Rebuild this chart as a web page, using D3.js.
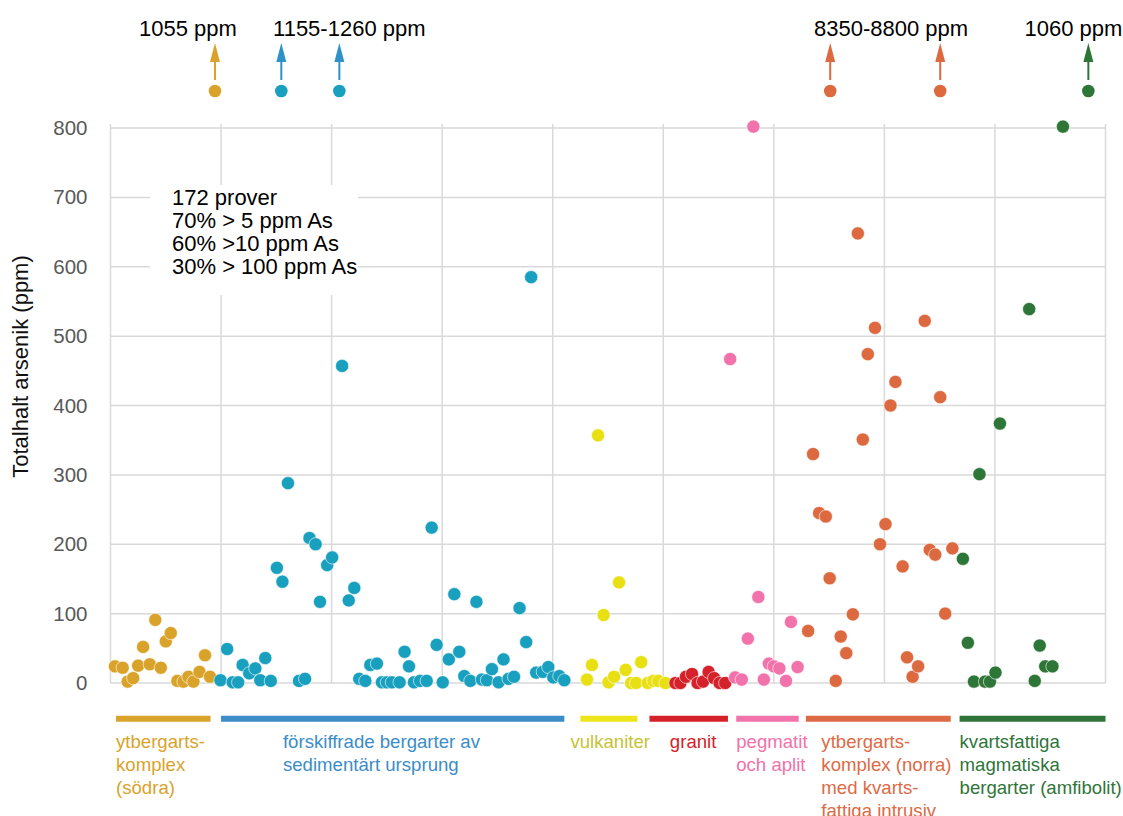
<!DOCTYPE html>
<html><head><meta charset="utf-8">
<script src="https://cdn.jsdelivr.net/npm/d3@7"></script>
<style>body{margin:0;background:#fff} svg{display:block}</style>
</head><body>
<svg id="c" width="1123" height="816"></svg>
<script>
// ---------- DATA ----------
const yTicks = [0, 100, 200, 300, 400, 500, 600, 700, 800];
const xGridTicks = [0, 20, 40, 60, 80, 100, 120, 140, 160, 180];
const yTitle = "Totalhalt arsenik (ppm)";
const noteLines = ["172 prover", "70% > 5 ppm As", "60% >10 ppm As", "30% > 100 ppm As"];

const groupKeys = ["sodra", "forskiffrade", "vulkaniter", "granit", "pegmatit", "norra", "kvartsfattiga"];
const groupLabels = [
  ["ytbergarts-", "komplex", "(södra)"],
  ["förskiffrade bergarter av", "sedimentärt ursprung"],
  ["vulkaniter"],
  ["granit"],
  ["pegmatit", "och aplit"],
  ["ytbergarts-", "komplex (norra)", "med kvarts-", "fattiga intrusiv"],
  ["kvartsfattiga", "magmatiska", "bergarter (amfibolit)"]
];
// sample-position range covered by each group
const groupSpans = [[1.0, 18.1], [20.0, 82.1], [85.0, 95.3], [97.5, 111.7], [113.2, 124.5], [125.8, 152.0], [153.6, 180.0]];

// [sample position, As ppm]
const sodra = [[0.8,24],[2.2,22],[3.1,2],[4.1,7],[5.0,25],[5.9,52],[7.1,27],[8.1,91],[9.1,22],[10.0,60],
  [10.9,72],[12.1,3],[13.2,2],[14.1,9],[15.0,2],[16.1,16],[17.1,40],[18.0,9]];
const forskiffrade = [[19.9,4],[21.1,49],[22.1,1],[23.1,1],[23.9,26],[25.1,14],[26.2,21],[27.1,4],[28.0,36],[29.0,3],
  [30.1,166],[31.1,146],[32.1,288],[34.1,3],[35.2,6],[36.0,209],[37.1,200],[37.9,117],[39.2,170],[40.1,181],
  [41.9,457],[43.1,119],[44.1,137],[45.0,6],[46.1,3],[47.0,26],[48.2,28],[49.1,1],[50.0,1],[50.9,1],
  [52.3,1],[53.2,45],[54.0,24],[54.9,1],[56.0,3],[57.2,3],[58.1,224],[59.0,55],[60.1,1],[61.2,34],
  [62.2,128],[63.1,45],[64.0,10],[65.1,3],[66.2,117],[67.2,5],[68.1,4],[69.0,20],[70.2,1],[71.1,34],
  [72.0,6],[73.0,9],[74.0,108],[75.2,59],[76.1,585],[77.0,15],[78.2,16],[79.2,23],[80.1,8],[81.2,10],[82.1,4]];
const vulkaniter = [[86.2,5],[87.1,26],[88.2,357],[89.2,98],[90.1,1],[91.1,9],[92.0,145],[93.2,19],[94.2,0],[95.1,0],
  [96.0,30],[97.2,0],[98.2,3],[99.1,3],[100.4,0]];
const granit = [[102.2,0],[103.1,0],[104.1,9],[105.2,13],[106.2,0],[107.2,2],[108.2,16],[109.2,7],[110.2,0],[111.2,0]];
const pegmatit = [[112.1,467],[113.0,8],[114.2,5],[115.3,64],[116.3,802],[117.2,124],[118.2,5],[119.1,28],[120.0,24],
  [121.0,21],[122.2,3],[123.1,88],[124.3,23]];
const norra = [[126.2,75],[127.1,330],[128.2,245],[129.4,240],[130.1,151],[131.2,3],[132.1,67],[133.1,43],[134.3,99],
  [135.2,648],[136.1,351],[137.0,474],[138.3,512],[139.2,200],[140.2,229],[141.1,400],[142.0,434],[143.3,168],
  [144.1,37],[145.1,9],[146.1,24],[147.3,522],[148.2,192],[149.2,185],[150.1,412],[151.0,100],[152.3,194]];
const kvartsfattiga = [[154.2,179],[155.1,58],[156.2,2],[157.2,301],[158.2,2],[159.1,2],[160.1,15],[160.9,374],
  [166.2,539],[167.2,3],[168.1,54],[169.1,24],[170.4,24],[172.3,802]];
const groupData = [sodra, forskiffrade, vulkaniter, granit, pegmatit, norra, kvartsfattiga];

// off-scale samples: [group index, sample position, ppm]
const outliers = [[0, 18.9, 1055], [1, 30.9, 1155], [1, 41.4, 1260], [5, 130.2, 8350], [5, 150.1, 8800], [6, 176.9, 1060]];
const outlierLabels = [["1055 ppm", 14.0], ["1155-1260 ppm", 43.2], ["8350-8800 ppm", 141.2], ["1060 ppm", 174.2]];

// ---------- STYLE ----------
const dotColors = ["#D9A32B", "#1AA0BF", "#E8E013", "#D52129", "#F272AB", "#DC6940", "#2E7538"];
const barColors = ["#D9A32B", "#3B8DC8", "#EDE51A", "#D52129", "#F272AB", "#DE6A45", "#2F7539"];
const labelColors = ["#D9A32B", "#3B8DC8", "#C7C236", "#D52129", "#F272AB", "#DE6A45", "#2F7539"];
const arrowColors = ["#D9A32B", "#2E92C9", "#E8E013", "#D52129", "#F272AB", "#DC6940", "#2E7538"];
const labelPlace = [["start", 1.0], ["start", 31.2], ["middle", 90.4], ["middle", 105.4], ["start", 113.2], ["start", 128.6], ["start", 153.6]];
const FONT = "'Liberation Sans', Arial, Helvetica, sans-serif";

const svg = d3.select("#c").style("font-family", FONT);
const x = d3.scaleLinear().domain([0, 180]).range([110.5, 1105.5]);
const y = d3.scaleLinear().domain([0, 800]).range([683, 128]);

// grid
const grid = svg.append("g").attr("stroke", "#d9d9d9").attr("stroke-width", 1.5);
grid.selectAll("line.h").data(yTicks).join("line").attr("class", "h")
  .attr("x1", x(0)).attr("x2", x(180)).attr("y1", d => y(d)).attr("y2", d => y(d));
grid.selectAll("line.v").data(xGridTicks).join("line").attr("class", "v")
  .attr("x1", d => x(d)).attr("x2", d => x(d)).attr("y1", y(800) - 4).attr("y2", y(0));

// y axis labels
const yAxis = svg.append("g").attr("transform", `translate(${x(0)},0)`)
  .call(d3.axisLeft(y).tickValues(yTicks).tickSize(0).tickPadding(23));
yAxis.select(".domain").remove();
yAxis.selectAll("text").attr("font-size", 20.5).attr("fill", "#595959").attr("font-family", FONT);

// y title
svg.append("text").attr("transform", "translate(28,366.5) rotate(-90)")
  .attr("text-anchor", "middle").attr("font-size", 22).attr("fill", "#111").text(yTitle);

// note box
svg.append("rect").attr("x", 150).attr("y", 185).attr("width", 208).attr("height", 110).attr("fill", "#fff");
svg.append("g").selectAll("text").data(noteLines).join("text")
  .attr("x", 172).attr("y", (d, i) => 205 + i * 23).attr("font-size", 22).attr("fill", "#000").text(d => d);

// points
groupData.forEach((arr, gi) => {
  svg.append("g").selectAll("circle").data(arr).join("circle")
    .attr("cx", d => x(d[0])).attr("cy", d => y(d[1])).attr("r", 6.6)
    .attr("fill", dotColors[gi]).attr("stroke", "#fff").attr("stroke-width", 0.6);
});

// outliers with arrows
const og = svg.append("g");
outliers.forEach(([gi, p, v]) => {
  const cx = x(p);
  og.append("circle").attr("cx", cx).attr("cy", 91).attr("r", 6.3).attr("fill", dotColors[gi]);
  og.append("line").attr("x1", cx).attr("x2", cx).attr("y1", 80).attr("y2", 60)
    .attr("stroke", arrowColors[gi]).attr("stroke-width", 2);
  og.append("path").attr("d", `M${cx - 5},${62} L${cx + 5},${62} L${cx},${43} Z`).attr("fill", arrowColors[gi])
    .attr("data-value", v);
});
svg.append("g").selectAll("text").data(outlierLabels).join("text")
  .attr("x", d => x(d[1])).attr("y", 36).attr("text-anchor", "middle")
  .attr("font-size", 22).attr("fill", "#000").text(d => d[0]);

// group bars
svg.append("g").selectAll("line").data(groupSpans).join("line")
  .attr("x1", d => x(d[0])).attr("x2", d => x(d[1])).attr("y1", 718.7).attr("y2", 718.7)
  .attr("stroke", (d, i) => barColors[i]).attr("stroke-width", 6);

// group labels
groupLabels.forEach((lines, gi) => {
  const [anchor, p] = labelPlace[gi];
  svg.append("g").selectAll("text").data(lines).join("text")
    .attr("x", x(p)).attr("y", (d, i) => 748 + i * 23).attr("text-anchor", anchor)
    .attr("font-size", 18.6).attr("fill", labelColors[gi]).text(d => d);
});
</script>
</body></html>
